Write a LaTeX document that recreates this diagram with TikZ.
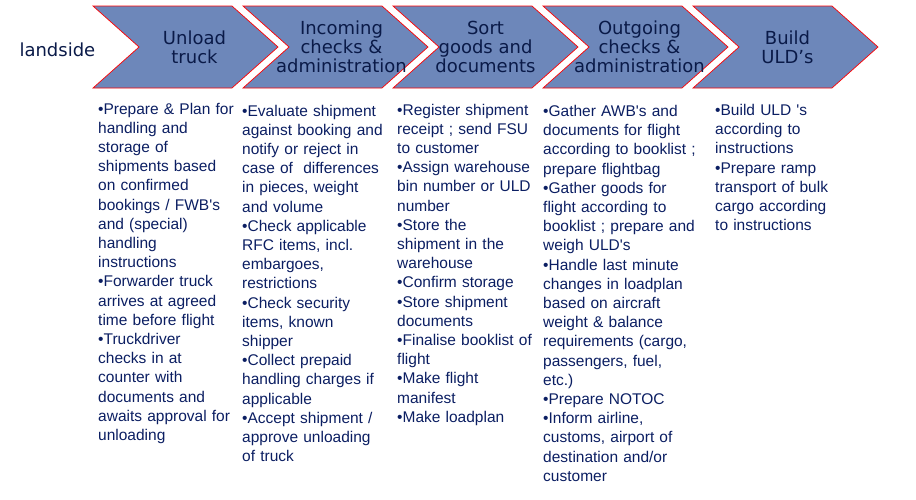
\documentclass[tikz,border=0pt]{standalone}
\usepackage{fontspec}
\setmainfont{Liberation Sans}
\newfontfamily\headfont{DejaVu Sans}
\usetikzlibrary{positioning,shapes.symbols}
\definecolor{chevfill}{HTML}{6D87BA}
\definecolor{headtext}{HTML}{0A1A48}
\definecolor{bodytext}{HTML}{0B1E62}
\newcommand{\apos}{\textquotesingle}

\begin{document}
\begin{tikzpicture}[x=1pt, y=-1pt, stage/.style={signal, signal from=west, signal to=east, signal pointer angle=83.4, draw=red, line width=0.7pt, fill=chevfill, minimum width=185pt, minimum height=82pt, inner sep=0pt}, head/.style={align=center, text=headtext, font=\headfont\fontsize{18}{19}\selectfont}, task/.style={anchor=base west, text width=170pt, align=left, inner sep=0pt, text=bodytext, font=\fontsize{15.5}{19.2}\selectfont}]
\useasboundingbox (0,0) rectangle (916,499);
\node[head, anchor=base west] (landside) at (16,56) {landside};
\node[stage] (unload) at (185.5,47) {};
\node[stage] (incoming) at ([xshift=150pt]unload) {};
\node[stage] (sort) at ([xshift=150pt]incoming) {};
\node[stage] (outgoing) at ([xshift=150pt]sort) {};
\node[stage] (build) at ([xshift=150pt]outgoing) {};
\node[head] (unloadlbl) at ([xshift=9pt]unload) {Unload\\truck};
\node[head] (incominglbl) at ([xshift=6pt]incoming) {Incoming\\checks \&\\administration};
\node[head] (sortlbl) at (sort) {Sort\\goods and\\documents};
\node[head] (outgoinglbl) at ([xshift=4pt]outgoing) {Outgoing\\checks \&\\administration};
\node[head] (buildlbl) at ([xshift=2pt]build) {Build\\ULD’s};
\node[task] (unloadtasks) at (98,114) {•Prepare \& Plan for\\handling and\\storage of\\shipments based\\on confirmed\\bookings / FWB\apos s\\and (special)\\handling\\instructions\\•Forwarder truck\\arrives at agreed\\time before flight\\•Truckdriver\\checks in at\\counter with\\documents and\\awaits approval for\\unloading};
\node[task] (incomingtasks) at (242,116) {•Evaluate shipment\\against booking and\\notify or reject in\\case of\ \ differences\\in pieces, weight\\and volume\\•Check applicable\\RFC items, incl.\\embargoes,\\restrictions\\•Check security\\items, known\\shipper\\•Collect prepaid\\handling charges if\\applicable\\•Accept shipment /\\approve unloading\\of truck};
\node[task] (sorttasks) at (397,115) {•Register shipment\\receipt ; send FSU\\to customer\\•Assign warehouse\\bin number or ULD\\number\\•Store the\\shipment in the\\warehouse\\•Confirm storage\\•Store shipment\\documents\\•Finalise booklist of\\flight\\•Make flight\\manifest\\•Make loadplan};
\node[task] (outgoingtasks) at (543,116.5) {•Gather AWB\apos s and\\documents for flight\\according to booklist ;\\prepare flightbag\\•Gather goods for\\flight according to\\booklist ; prepare and\\weigh ULD\apos s\\•Handle last minute\\changes in loadplan\\based on aircraft\\weight \& balance\\requirements (cargo,\\passengers, fuel,\\etc.)\\•Prepare NOTOC\\•Inform airline,\\customs, airport of\\destination and/or\\customer};
\node[task] (buildtasks) at (715,115.5) {•Build ULD \apos s\\according to\\instructions\\•Prepare ramp\\transport of bulk\\cargo according\\to instructions};
\end{tikzpicture}
\end{document}
